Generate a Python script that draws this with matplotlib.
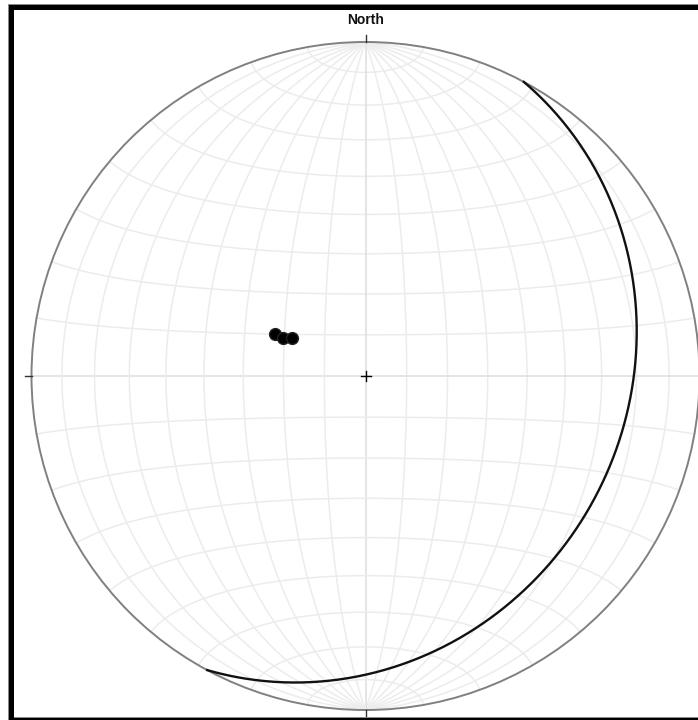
import numpy as np
import matplotlib
matplotlib.use('Agg')
import matplotlib.pyplot as plt
from matplotlib.patches import Circle, Rectangle

plt.rcParams['font.family'] = ['Liberation Sans', 'DejaVu Sans']

# planes measured as strike / dip (right-hand rule), plotted as poles
pole_strikes = [24.7, 25.0, 27.4]
pole_dips = [24.3, 22.1, 20.3]

# plane drawn as a great circle
plane_strike = 28.3
plane_dip = 23.3

GRID_STEP = 10


def to_xy(north, east, down):
    # lower hemisphere, equal area (Schmidt) projection onto unit circle
    north = np.asarray(north, float)
    east = np.asarray(east, float)
    down = np.asarray(down, float)
    flip = down < 0
    north = np.where(flip, -north, north)
    east = np.where(flip, -east, east)
    down = np.abs(down)
    plunge = np.arcsin(np.clip(down, -1, 1))
    trend = np.arctan2(east, north)
    r = np.sqrt(2) * np.sin((np.pi / 2 - plunge) / 2)
    return r * np.sin(trend), r * np.cos(trend)


def great_circle(strike, dip, n=400):
    s = np.radians(strike)
    d = np.radians(dip)
    a = np.linspace(0, np.pi, n)
    sv = np.array([np.cos(s), np.sin(s), 0.0])
    dv = np.array([np.cos(s + np.pi / 2) * np.cos(d), np.sin(s + np.pi / 2) * np.cos(d), np.sin(d)])
    v = np.outer(np.cos(a), sv) + np.outer(np.sin(a), dv)
    return to_xy(v[:, 0], v[:, 1], v[:, 2])


def pole(strike, dip):
    trend = np.radians(strike - 90)
    plunge = np.radians(90 - dip)
    return to_xy(np.cos(plunge) * np.cos(trend), np.cos(plunge) * np.sin(trend), np.sin(plunge))


fig = plt.figure(figsize=(6.98, 7.2), dpi=100)

# outer frame
frame = Rectangle((10.8 / 698, 1 - 719.5 / 720), 2.0, (719.5 - 6.5) / 720,
                  transform=fig.transFigure, fill=False, edgecolor='#888888', lw=4.3, zorder=0)
fig.patches.append(frame)
frame2 = Rectangle((10.8 / 698, 1 - 719.5 / 720), 2.0, (719.5 - 6.5) / 720,
                   transform=fig.transFigure, fill=False, edgecolor='black', lw=3.6, zorder=1)
fig.patches.append(frame2)

cx, cy, R = 365.5, 376.0, 334.0
ax = fig.add_axes([(cx - R) / 698, (720 - cy - R) / 720, 2 * R / 698, 2 * R / 720])
ax.set_xlim(-1, 1)
ax.set_ylim(-1, 1)
ax.set_aspect('equal')
ax.axis('off')

phi = np.linspace(0, np.pi, 300)
for k in range(GRID_STEP, 180, GRID_STEP):
    g = np.radians(k)
    col = '#dedede' if k == 90 else '#ececec'
    grid_kw = dict(color=col, lw=1.1, zorder=1, solid_capstyle='butt')
    # meridians: great circles through N and S
    north = np.cos(phi)
    east = np.sin(phi) * np.cos(g)
    down = np.sin(phi) * np.sin(g)
    x, y = to_xy(north, east, down)
    ax.plot(x, y, **grid_kw)
    # parallels: small circles around the N-S axis
    north = np.full_like(phi, np.cos(g))
    east = np.sin(g) * np.cos(phi)
    down = np.sin(g) * np.sin(phi)
    x, y = to_xy(north, east, down)
    ax.plot(x, y, **grid_kw)

ax.add_patch(Circle((0, 0), 1, fill=False, edgecolor='#808080', lw=1.4, zorder=3, clip_on=False))

# cardinal ticks and centre cross
t = 7 / R
ax.plot([0, 0], [1, 1 + t], color='#333333', lw=1, clip_on=False, zorder=3)
ax.plot([0, 0], [-1, -1 - t], color='#333333', lw=1, clip_on=False, zorder=3)
ax.plot([-1, -1 - t], [0, 0], color='#333333', lw=1, clip_on=False, zorder=3)
ax.plot([1, 1 + t], [0, 0], color='#333333', lw=1, clip_on=False, zorder=3)
c = 5 / R
ax.plot([-c, c], [0, 0], color='black', lw=1, zorder=4)
ax.plot([0, 0], [-c, c], color='black', lw=1, zorder=4)

x, y = great_circle(plane_strike, plane_dip)
ax.plot(x, y, color='#111111', lw=1.7, zorder=5)

for s, d in zip(pole_strikes, pole_dips):
    px, py = pole(s, d)
    ax.plot(px, py, 'o', color='black', markersize=8.5, markeredgecolor='#222222', zorder=6)

fig.text(cx / 698, 1 - 20 / 720, 'North', ha='center', va='center',
         fontsize=10, fontweight='bold', color='#111111')

fig.savefig('out.png', dpi=100)
